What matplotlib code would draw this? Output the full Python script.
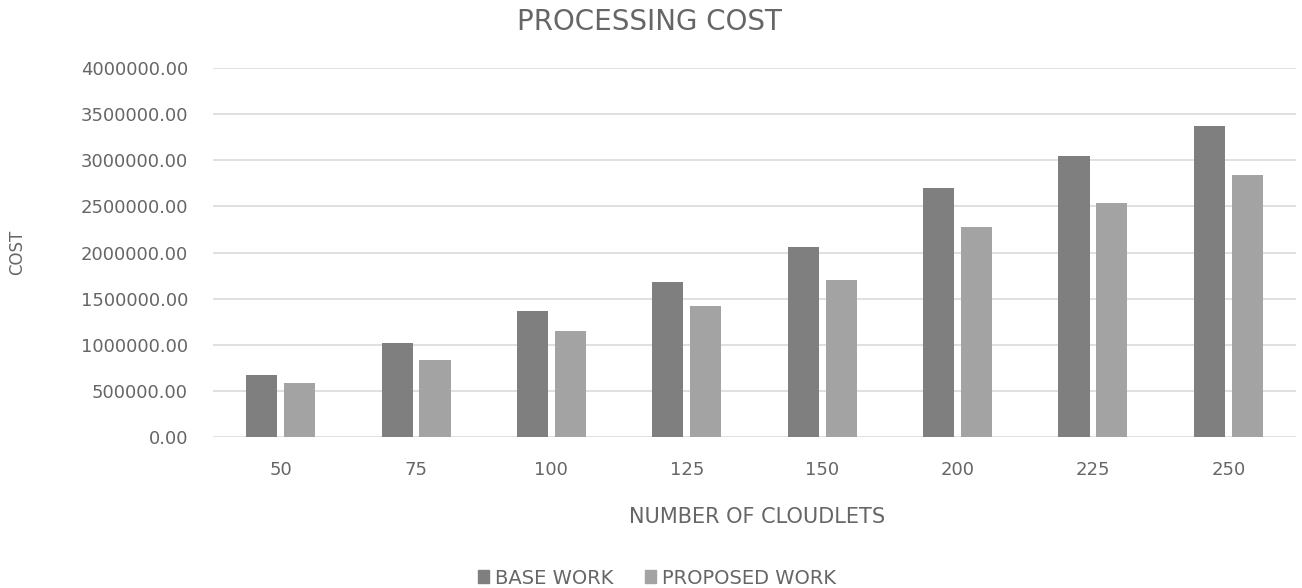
import numpy as np
import matplotlib.pyplot as plt
from matplotlib.patches import Patch

cloudlets = ['50', '75', '100', '125', '150', '200', '225', '250']
base_work = [675000, 1019000, 1362000, 1680000, 2060000, 2700000, 3042000, 3375000]
proposed_work = [585000, 838000, 1145000, 1423000, 1698000, 2272000, 2537000, 2836000]
yticks = np.arange(0, 4000001, 500000)

base_col = '#7f7f7f'
prop_col = '#a3a3a3'
txt_col = '#666666'

plt.rcParams['font.family'] = ['DejaVu Sans']

fig = plt.figure(figsize=(13.02, 5.88), dpi=100)
ax = fig.add_axes([213/1302, 1 - 437/588, (1296 - 213)/1302, (437 - 68)/588])

x = np.arange(len(cloudlets))
w = 0.23
ax.bar(x - 0.14, base_work, w, color=base_col, zorder=3)
ax.bar(x + 0.14, proposed_work, w, color=prop_col, zorder=3)

ax.set_xlim(-0.5, len(cloudlets) - 0.5)
ax.set_ylim(0, 4000000)
ax.set_yticks(yticks)
ax.set_yticklabels(['%.2f' % v for v in yticks])
ax.set_xticks(x)
ax.set_xticklabels(cloudlets)
ax.tick_params(axis='both', length=0, labelsize=13, colors=txt_col)
ax.tick_params(axis='y', pad=18)
ax.tick_params(axis='x', pad=17)
ax.grid(axis='y', color='#dadada', linewidth=1.2, zorder=0)
for s in ax.spines.values():
    s.set_visible(False)

fig.text(649/1302, 1 - 22/588, 'PROCESSING COST', ha='center', va='center',
         fontsize=20, color=txt_col)
fig.text(17/1302, 1 - 252/588, 'COST', rotation=90, ha='center', va='center',
         fontsize=12, color=txt_col)
fig.text(757/1302, 1 - 517/588, 'NUMBER OF CLOUDLETS', ha='center', va='center',
         fontsize=15, color=txt_col)

handles = [Patch(color=base_col, label='BASE WORK'),
           Patch(color=prop_col, label='PROPOSED WORK')]
fig.legend(handles=handles, loc='center', bbox_to_anchor=(657/1302, 1 - 578/588),
           ncol=2, frameon=False, fontsize=14, labelcolor=txt_col,
           handlelength=0.6, handleheight=0.6, handletextpad=0.3, columnspacing=1.6)

fig.savefig('out.png', dpi=100)
